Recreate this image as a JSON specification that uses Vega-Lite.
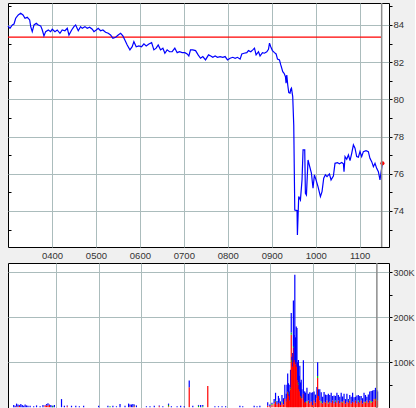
{
  "$schema": "https://vega.github.io/schema/vega-lite/v6.json",
  "background": "#f0f0f0",
  "padding": {"left": 5, "top": 1, "right": 0, "bottom": 0},
  "bounds": "flush",
  "spacing": 16,
  "config": {
    "view": {"stroke": "#000000", "strokeWidth": 1, "fill": "#ffffff"},
    "axis": {"labelFont": "Liberation Sans", "labelFontSize": 9.5, "labelColor": "#333333", "tickColor": "#000000", "gridColor": "#abbcbc", "gridWidth": 1, "title": null, "minExtent": 0}
  },
  "datasets": {
    "price": [
      {"t":180,"p":83.95},{"t":182.7,"p":83.82},{"t":185.9,"p":84.0},{"t":188.2,"p":84.05},{"t":190.5,"p":84.36},{"t":194,"p":84.54},{"t":197.3,"p":84.63},{"t":200.5,"p":84.54},{"t":203.2,"p":84.36},{"t":206.3,"p":84.41},{"t":209.6,"p":84.27},{"t":211,"p":83.91},{"t":213.1,"p":83.64},{"t":215.5,"p":84.0},{"t":218.6,"p":84.09},{"t":221.3,"p":84.0},{"t":224.6,"p":83.95},{"t":226.8,"p":83.73},{"t":229.1,"p":83.41},{"t":231.4,"p":83.64},{"t":235,"p":83.73},{"t":238.2,"p":83.64},{"t":240.4,"p":83.77},{"t":244.1,"p":83.64},{"t":247.2,"p":83.73},{"t":250.9,"p":83.55},{"t":254,"p":83.73},{"t":257.7,"p":83.69},{"t":260.9,"p":83.82},{"t":263.2,"p":83.46},{"t":266.9,"p":83.73},{"t":270,"p":83.91},{"t":272.3,"p":84.0},{"t":275.9,"p":83.69},{"t":279.1,"p":83.91},{"t":281.3,"p":83.82},{"t":285,"p":83.91},{"t":288.1,"p":83.82},{"t":291.4,"p":83.88},{"t":295,"p":83.77},{"t":297.3,"p":83.64},{"t":300.4,"p":83.73},{"t":303.1,"p":83.82},{"t":306.4,"p":83.69},{"t":309.5,"p":83.73},{"t":313.2,"p":83.61},{"t":316.8,"p":83.55},{"t":320,"p":83.46},{"t":323.2,"p":83.28},{"t":326.9,"p":83.34},{"t":330.4,"p":83.46},{"t":333.7,"p":83.55},{"t":336.8,"p":83.41},{"t":339.5,"p":83.19},{"t":342.7,"p":82.92},{"t":346.4,"p":82.66},{"t":349.5,"p":82.83},{"t":351.8,"p":83.1},{"t":355,"p":82.83},{"t":358.6,"p":82.87},{"t":362.3,"p":82.83},{"t":365.5,"p":82.98},{"t":368.6,"p":82.87},{"t":372.3,"p":82.98},{"t":376,"p":83.05},{"t":379.1,"p":82.66},{"t":382.2,"p":82.75},{"t":385,"p":82.92},{"t":388.2,"p":82.66},{"t":391.4,"p":82.75},{"t":394.1,"p":82.48},{"t":397.2,"p":82.66},{"t":400.5,"p":82.56},{"t":404,"p":82.56},{"t":407.7,"p":82.75},{"t":410.9,"p":82.51},{"t":414.1,"p":82.56},{"t":417.7,"p":82.51},{"t":421.4,"p":82.51},{"t":424.5,"p":82.44},{"t":426.8,"p":82.33},{"t":429.1,"p":82.66},{"t":432.3,"p":82.66},{"t":436,"p":82.62},{"t":439.5,"p":82.39},{"t":442.8,"p":82.21},{"t":445.9,"p":82.3},{"t":449.6,"p":82.12},{"t":453.7,"p":82.39},{"t":456.8,"p":82.33},{"t":459.5,"p":82.26},{"t":462.7,"p":82.33},{"t":465.9,"p":82.26},{"t":469.5,"p":82.3},{"t":473.2,"p":82.26},{"t":476.3,"p":82.3},{"t":479.6,"p":82.12},{"t":483.1,"p":82.21},{"t":486.8,"p":82.26},{"t":490,"p":82.21},{"t":493.2,"p":82.26},{"t":496.8,"p":82.16},{"t":499.1,"p":82.44},{"t":502.2,"p":82.48},{"t":505.9,"p":82.51},{"t":508.2,"p":82.62},{"t":511.4,"p":82.56},{"t":514.1,"p":82.66},{"t":516.4,"p":82.75},{"t":518.6,"p":82.39},{"t":521.9,"p":82.56},{"t":524,"p":82.33},{"t":527.3,"p":82.51},{"t":530,"p":82.48},{"t":533.2,"p":82.56},{"t":535.5,"p":82.69},{"t":536.9,"p":83.02},{"t":538.6,"p":82.83},{"t":540.9,"p":82.62},{"t":543.7,"p":82.51},{"t":545.9,"p":82.44},{"t":547.8,"p":82.16},{"t":550.5,"p":82.12},{"t":552.3,"p":81.85},{"t":555,"p":81.49},{"t":556.8,"p":81.4},{"t":558.7,"p":81.22},{"t":559.5,"p":80.87},{"t":560.5,"p":81.31},{"t":561.8,"p":80.77},{"t":563.2,"p":80.36},{"t":564.9,"p":80.33},{"t":565.9,"p":80.54},{"t":566.9,"p":80.6},{"t":568.6,"p":80.15},{"t":570,"p":78.62},{"t":571.4,"p":74.05},{"t":574.5,"p":74.02},{"t":575,"p":72.71},{"t":576.8,"p":74.77},{"t":579.1,"p":74.59},{"t":581.3,"p":75.67},{"t":582.7,"p":77.28},{"t":585,"p":77.28},{"t":585.9,"p":74.95},{"t":587.3,"p":74.86},{"t":589.5,"p":76.74},{"t":591.8,"p":76.38},{"t":594.1,"p":76.03},{"t":596.3,"p":75.22},{"t":598.2,"p":75.94},{"t":600.4,"p":75.67},{"t":603.1,"p":75.31},{"t":606.4,"p":74.77},{"t":608.6,"p":75.04},{"t":610.9,"p":75.76},{"t":613.2,"p":75.94},{"t":615.4,"p":75.84},{"t":618.7,"p":75.99},{"t":620.9,"p":75.67},{"t":624.1,"p":75.88},{"t":626.3,"p":76.56},{"t":629.6,"p":76.6},{"t":632.3,"p":76.53},{"t":635.5,"p":76.6},{"t":637.8,"p":76.53},{"t":638.6,"p":76.11},{"t":640,"p":76.92},{"t":642.3,"p":76.78},{"t":644.6,"p":77.01},{"t":646.8,"p":76.7},{"t":649.1,"p":77.1},{"t":651.4,"p":77.55},{"t":653.6,"p":77.37},{"t":655.9,"p":76.92},{"t":658.2,"p":76.89},{"t":660.4,"p":77.19},{"t":662.7,"p":76.92},{"t":665,"p":77.19},{"t":668.6,"p":77.24},{"t":671.8,"p":77.19},{"t":674,"p":76.83},{"t":676.4,"p":76.65},{"t":678.7,"p":76.38},{"t":680.9,"p":76.56},{"t":683.2,"p":76.29},{"t":685.5,"p":76.11},{"t":687.7,"p":75.67},{"t":689,"p":76.03},{"t":691,"p":76.56}
    ],
    "vol": [
      {"t":181,"r":0,"g":0,"b":5},{"t":183,"r":0,"g":0,"b":3},{"t":185,"r":2,"g":0,"b":6},{"t":187,"r":0,"g":0,"b":6},{"t":189,"r":3,"g":0,"b":2},{"t":191,"r":0,"g":0,"b":7},{"t":193,"r":0,"g":0,"b":5},{"t":195,"r":0,"g":0,"b":3},{"t":197,"r":0,"g":0,"b":6},{"t":199,"r":0,"g":0,"b":4},{"t":201,"r":0,"g":0,"b":3},{"t":204,"r":0,"g":0,"b":3},{"t":209,"r":0,"g":0,"b":2},{"t":213,"r":0,"g":0,"b":4},{"t":218,"r":0,"g":0,"b":2},{"t":222,"r":0,"g":0,"b":5},{"t":225,"r":4,"g":0,"b":1},{"t":227,"r":4,"g":0,"b":3},{"t":229,"r":3,"g":0,"b":6},{"t":231,"r":5,"g":0,"b":1},{"t":233,"r":0,"g":0,"b":5},{"t":235,"r":0,"g":0,"b":3},{"t":236,"r":0,"g":3,"b":0},{"t":238,"r":0,"g":0,"b":5},{"t":248,"r":0,"g":0,"b":18},{"t":252,"r":0,"g":0,"b":3},{"t":256,"r":2,"g":0,"b":2},{"t":262,"r":0,"g":0,"b":3},{"t":268,"r":0,"g":0,"b":3},{"t":273,"r":0,"g":0,"b":2},{"t":279,"r":0,"g":0,"b":3},{"t":300,"r":0,"g":0,"b":3},{"t":313,"r":0,"g":0,"b":3},{"t":316,"r":0,"g":2,"b":0},{"t":320,"r":0,"g":0,"b":3},{"t":325,"r":0,"g":0,"b":2},{"t":330,"r":0,"g":0,"b":7},{"t":337,"r":0,"g":0,"b":3},{"t":342,"r":0,"g":0,"b":8},{"t":344,"r":2,"g":0,"b":4},{"t":346,"r":0,"g":0,"b":6},{"t":348,"r":0,"g":0,"b":7},{"t":350,"r":2,"g":1,"b":3},{"t":353,"r":0,"g":0,"b":4},{"t":367,"r":0,"g":0,"b":2},{"t":372,"r":0,"g":0,"b":2},{"t":378,"r":0,"g":0,"b":3},{"t":385,"r":2,"g":0,"b":2},{"t":390,"r":0,"g":0,"b":2},{"t":398,"r":2,"g":3,"b":3},{"t":402,"r":0,"g":0,"b":2},{"t":410,"r":0,"g":0,"b":2},{"t":415,"r":0,"g":0,"b":3},{"t":420,"r":0,"g":0,"b":2},{"t":427,"r":44,"g":0,"b":15},{"t":432,"r":0,"g":0,"b":3},{"t":440,"r":0,"g":3,"b":2},{"t":443,"r":0,"g":0,"b":5},{"t":446,"r":0,"g":2,"b":3},{"t":453,"r":47,"g":0,"b":0},{"t":463,"r":0,"g":0,"b":2},{"t":468,"r":0,"g":0,"b":2},{"t":473,"r":0,"g":0,"b":2},{"t":478,"r":0,"g":0,"b":2},{"t":498,"r":0,"g":0,"b":3},{"t":502,"r":0,"g":0,"b":2},{"t":518,"r":0,"g":0,"b":3},{"t":522,"r":0,"g":0,"b":2},{"t":526,"r":0,"g":0,"b":3},
      {"t":537,"r":3,"g":0,"b":8},{"t":540,"r":2,"g":0,"b":4},{"t":543,"r":5,"g":2,"b":3},{"t":546,"r":8,"g":0,"b":10},{"t":548,"r":12,"g":2,"b":18},{"t":550,"r":6,"g":0,"b":8},{"t":552,"r":10,"g":0,"b":15},{"t":553,"r":8,"g":0,"b":12},{"t":555,"r":5,"g":0,"b":8},{"t":557,"r":10,"g":2,"b":15},{"t":559,"r":6,"g":0,"b":14},{"t":561,"r":18,"g":0,"b":32},{"t":563,"r":12,"g":0,"b":18},{"t":564,"r":20,"g":0,"b":30},{"t":565,"r":35,"g":0,"b":40},{"t":566,"r":30,"g":3,"b":20},{"t":567,"r":25,"g":0,"b":25},{"t":568,"r":15,"g":0,"b":20},{"t":569,"r":40,"g":3,"b":40},{"t":570,"r":161,"g":5,"b":43},{"t":571,"r":100,"g":5,"b":7},{"t":572,"r":90,"g":0,"b":30},{"t":573,"r":132,"g":4,"b":101},{"t":574,"r":100,"g":0,"b":60},{"t":575,"r":105,"g":0,"b":189},{"t":576,"r":95,"g":0,"b":60},{"t":577,"r":100,"g":0,"b":79},{"t":578,"r":90,"g":0,"b":86},{"t":579,"r":60,"g":0,"b":40},{"t":580,"r":50,"g":5,"b":50},{"t":581,"r":40,"g":0,"b":30},{"t":582,"r":35,"g":0,"b":57},{"t":583,"r":25,"g":0,"b":30},{"t":584,"r":20,"g":3,"b":38},{"t":585,"r":20,"g":0,"b":20},{"t":587,"r":30,"g":0,"b":74},{"t":588,"r":15,"g":0,"b":20},{"t":589,"r":10,"g":0,"b":25},{"t":590,"r":12,"g":0,"b":20},{"t":592,"r":10,"g":3,"b":30},{"t":594,"r":15,"g":0,"b":15},{"t":596,"r":8,"g":0,"b":25},{"t":598,"r":12,"g":0,"b":20},{"t":600,"r":5,"g":0,"b":28},{"t":602,"r":15,"g":0,"b":20},{"t":604,"r":10,"g":0,"b":18},{"t":606,"r":20,"g":0,"b":25},{"t":607,"r":65,"g":4,"b":31},{"t":608,"r":25,"g":0,"b":15},{"t":610,"r":15,"g":0,"b":25},{"t":612,"r":10,"g":3,"b":20},{"t":614,"r":8,"g":0,"b":15},{"t":616,"r":12,"g":0,"b":22},{"t":618,"r":10,"g":0,"b":18},{"t":620,"r":15,"g":0,"b":12},{"t":622,"r":8,"g":2,"b":20},{"t":624,"r":12,"g":0,"b":15},{"t":626,"r":10,"g":0,"b":22},{"t":628,"r":15,"g":0,"b":10},{"t":630,"r":8,"g":0,"b":18},{"t":632,"r":12,"g":3,"b":10},{"t":634,"r":10,"g":0,"b":22},{"t":636,"r":15,"g":0,"b":12},{"t":638,"r":8,"g":0,"b":15},{"t":640,"r":12,"g":0,"b":20},{"t":642,"r":10,"g":2,"b":12},{"t":644,"r":15,"g":0,"b":15},{"t":646,"r":8,"g":0,"b":10},{"t":648,"r":12,"g":0,"b":18},{"t":650,"r":10,"g":0,"b":8},{"t":652,"r":15,"g":2,"b":10},{"t":654,"r":8,"g":0,"b":15},{"t":656,"r":12,"g":0,"b":20},{"t":658,"r":10,"g":0,"b":12},{"t":660,"r":15,"g":0,"b":8},{"t":662,"r":8,"g":0,"b":18},{"t":664,"r":12,"g":3,"b":12},{"t":666,"r":10,"g":0,"b":15},{"t":668,"r":15,"g":0,"b":10},{"t":670,"r":8,"g":0,"b":12},{"t":672,"r":12,"g":0,"b":20},{"t":674,"r":10,"g":2,"b":15},{"t":676,"r":15,"g":0,"b":8},{"t":678,"r":10,"g":0,"b":18},{"t":680,"r":15,"g":0,"b":20},{"t":682,"r":10,"g":4,"b":22},{"t":684,"r":12,"g":0,"b":25},{"t":686,"r":18,"g":0,"b":20},{"t":688,"r":15,"g":3,"b":25},{"t":689,"r":20,"g":0,"b":18},{"t":690,"r":20,"g":0,"b":18},{"t":691,"r":15,"g":0,"b":20}
    ]
  },
  "vconcat": [
    {
      "width": 381,
      "height": 244,
      "layer": [
        {
          "data": {"values": [{"t0": 180, "t1": 690, "p": 83.34}]},
          "mark": {"type": "rule", "color": "#ff0000", "strokeWidth": 1.2},
          "encoding": {
            "x": {"field": "t0", "type": "quantitative", "scale": {"domain": [180, 700], "nice": false, "zero": false},
              "axis": {"values": [240, 300, 360, 420, 480, 540, 600, 660], "labelExpr": "format(datum.value/60, '02d') + '00'", "ticks": false, "domain": false, "labelPadding": 3, "grid": true}},
            "x2": {"field": "t1"},
            "y": {"field": "p", "type": "quantitative", "scale": {"domain": [72.06, 85.18], "nice": false, "zero": false},
              "axis": {"orient": "left", "values": [73, 75, 77, 79, 81, 83, 85], "labels": false, "grid": false, "domain": false, "tickSize": -3, "minExtent": 0, "maxExtent": 0}}
          }
        },
        {
          "data": {"name": "price"},
          "mark": {"type": "line", "color": "#0000ff", "strokeWidth": 1.2},
          "encoding": {
            "x": {"field": "t", "type": "quantitative"},
            "y": {"field": "p", "type": "quantitative",
              "axis": {"orient": "right", "values": [73, 74, 75, 76, 77, 78, 79, 80, 81, 82, 83, 84, 85], "tickSize": 3, "labelPadding": 1, "domain": false,
                "labelExpr": "datum.value % 2 == 0 ? datum.label : ''", "grid": true,
                "gridColor": {"condition": {"test": "datum.value % 2 == 0", "value": "#abbcbc"}, "value": "transparent"}}}
          }
        },
        {
          "data": {"name": "price"},
          "transform": [{"filter": "datum.t == 691"}],
          "mark": {"type": "point", "filled": true, "color": "#ff0000", "size": 18, "opacity": 1},
          "encoding": {
            "x": {"field": "t", "type": "quantitative"},
            "y": {"field": "p", "type": "quantitative", "axis": null}
          }
        },
        {
          "data": {"values": [{"t": 690}]},
          "mark": {"type": "rule", "color": "#8c8c8c", "strokeWidth": 1.5},
          "encoding": {"x": {"field": "t", "type": "quantitative"}}
        }
      ],
      "resolve": {"axis": {"y": "independent"}}
    },
    {
      "width": 381,
      "height": 146,
      "layer": [
        {
          "data": {"name": "vol"},
          "transform": [{"fold": ["r", "g", "b"], "as": ["side", "vol"]}],
          "mark": {"type": "bar", "size": 1.2},
          "encoding": {
            "x": {"field": "t", "type": "quantitative", "scale": {"domain": [180, 700], "nice": false, "zero": false},
              "axis": {"values": [240, 300, 360, 420, 480, 540, 600, 660], "labels": false, "ticks": false, "domain": false, "grid": true}},
            "y": {"field": "vol", "type": "quantitative", "stack": "zero", "scale": {"domain": [-4, 320], "nice": false, "zero": false},
              "axis": {"orient": "right", "values": [50, 100, 150, 200, 250, 300], "tickSize": 3, "labelPadding": 1, "domain": false, "labelFontSize": 9,
                "labelExpr": "datum.value % 100 == 0 ? datum.value + 'K' : ''", "grid": true,
                "gridColor": {"condition": {"test": "datum.value % 100 == 0", "value": "#abbcbc"}, "value": "transparent"}}},
            "color": {"field": "side", "type": "nominal", "scale": {"domain": ["r", "g", "b"], "range": ["#ff0000", "#00c000", "#0000ff"]}, "legend": null},
            "order": {"field": "side", "sort": "descending"}
          }
        },
        {
          "data": {"values": [{"t": 690}]},
          "mark": {"type": "rule", "color": "#8c8c8c", "strokeWidth": 1.5},
          "encoding": {"x": {"field": "t", "type": "quantitative"}}
        }
      ]
    }
  ]
}
